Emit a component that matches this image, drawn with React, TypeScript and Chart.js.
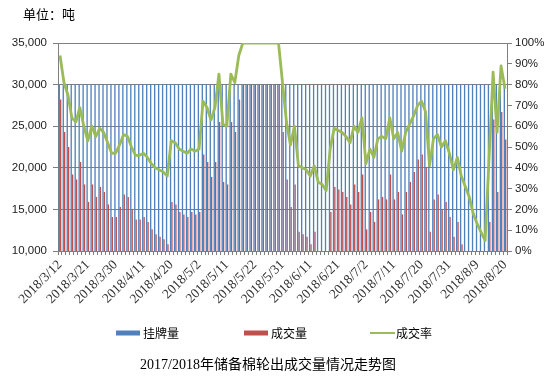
import React, { useEffect, useRef } from 'react';
import { Chart, registerables } from 'chart.js';

Chart.register(...registerables);

const dates = [
  '2018/3/12','2018/3/13','2018/3/14','2018/3/15','2018/3/16','2018/3/19','2018/3/20','2018/3/21','2018/3/22','2018/3/23',
  '2018/3/26','2018/3/27','2018/3/28','2018/3/29','2018/3/30',
  '2018/4/2','2018/4/3','2018/4/4','2018/4/8','2018/4/9','2018/4/10','2018/4/11','2018/4/12','2018/4/13','2018/4/16',
  '2018/4/17','2018/4/18','2018/4/19','2018/4/20','2018/4/23','2018/4/24','2018/4/25','2018/4/26','2018/4/27','2018/4/28',
  '2018/5/2','2018/5/3','2018/5/4','2018/5/7','2018/5/8','2018/5/9','2018/5/10','2018/5/11','2018/5/14','2018/5/15',
  '2018/5/16','2018/5/17','2018/5/18','2018/5/21','2018/5/22','2018/5/23','2018/5/24','2018/5/25','2018/5/28','2018/5/29',
  '2018/5/30','2018/5/31',
  '2018/6/1','2018/6/4','2018/6/5','2018/6/6','2018/6/7','2018/6/8','2018/6/11','2018/6/12','2018/6/13','2018/6/14',
  '2018/6/15','2018/6/19','2018/6/20','2018/6/21','2018/6/22','2018/6/25','2018/6/26','2018/6/27','2018/6/28','2018/6/29',
  '2018/7/2','2018/7/3','2018/7/4','2018/7/5','2018/7/6','2018/7/9','2018/7/10','2018/7/11','2018/7/12','2018/7/13',
  '2018/7/16','2018/7/17','2018/7/18','2018/7/19','2018/7/20','2018/7/23','2018/7/24','2018/7/25','2018/7/26','2018/7/27',
  '2018/7/30','2018/7/31',
  '2018/8/1','2018/8/2','2018/8/3','2018/8/6','2018/8/7','2018/8/8','2018/8/9','2018/8/10','2018/8/13','2018/8/14',
  '2018/8/15','2018/8/16','2018/8/17','2018/8/20',
];

// 挂牌量 (tons)
const listed = [
  30000,30000,30000,30000,30000,30000,30000,30000,30000,30000,
  30000,30000,30000,30000,30000,30000,30000,30000,30000,30000,
  30000,30000,30000,30000,30000,30000,30000,30000,30000,30000,
  30000,30000,30000,30000,30000,30000,30000,30000,30000,30000,
  30000,30000,30000,30000,30000,30000,30000,30000,30000,30000,
  30000,30000,30000,30000,30000,30000,30000,30000,30000,30000,
  30000,30000,30000,30000,30000,30000,30000,30000,30000,30000,
  30000,30000,30000,30000,30000,30000,30000,30000,30000,30000,
  30000,30000,30000,30000,30000,30000,30000,30000,30000,30000,
  30000,30000,30000,30000,30000,30000,30000,30000,30000,30000,
  30000,30000,30000,30000,30000,30000,30000,30000,30000,30000,
  30000,30000,30000,
];

// 成交量 (tons)
const traded = [
  28200,24300,22500,19200,18600,20700,18000,15900,18000,16500,
  17700,17100,15600,14100,14100,15300,16800,16500,15000,13800,
  13800,14100,13500,12600,12000,11700,11400,10800,15900,15600,
  14700,14400,14100,14700,14400,14700,21600,20700,18900,20700,
  25500,18300,18000,25500,24300,28200,30000,30000,30000,30000,
  30000,30000,30000,30000,30000,30000,24300,18600,15300,18000,
  12300,12000,11700,10800,12300,9900,9600,8700,14700,17700,
  17400,17100,16500,15600,18000,17100,19200,12600,14700,13500,
  16200,16500,16200,19200,16200,17100,14400,17100,18300,19500,
  21000,21600,20100,12300,16200,16800,15000,15900,14100,11700,
  13500,10800,9300,7800,5400,3900,2700,1500,13500,25800,
  17100,26700,23400,
];

// 成交率 (%)
const rate = [
  94,81,75,64,62,69,60,53,60,55,
  59,57,52,47,47,51,56,55,50,46,
  46,47,45,42,40,39,38,36,53,52,
  49,48,47,49,48,49,72,69,63,69,
  85,61,60,85,81,94,100,100,100,100,
  100,100,100,100,100,100,81,62,51,60,
  41,40,39,36,41,33,32,29,49,59,
  58,57,55,52,60,57,64,42,49,45,
  54,55,54,64,54,57,48,57,61,65,
  70,72,67,41,54,56,50,53,47,39,
  45,36,31,26,18,13,9,5,45,86,
  57,89,78,
];

const seriesNames = ['挂牌量', '成交量', '成交率'];
const unitText = '单位：吨';
const titleText = '2017/2018年储备棉轮出成交量情况走势图';
const labelEvery = 7;

const BLUE = '#4F81BD';
const RED = '#C0504D';
const GREEN = '#9BBB59';
const GRID = '#7F7F7F';

const textPlugin = {
  id: 'extraTexts',
  afterDraw(chart: any) {
    const ctx = chart.ctx;
    ctx.save();
    ctx.fillStyle = '#000';
    ctx.textBaseline = 'middle';
    ctx.textAlign = 'left';
    ctx.font = '13px "Noto Sans CJK SC"';
    ctx.fillText(unitText, 23, 14);

    // legend
    const ly = 333;
    ctx.font = '12px "Noto Sans CJK SC"';
    ctx.fillStyle = BLUE;
    ctx.fillRect(116, ly - 2.5, 24, 5);
    ctx.fillStyle = '#000';
    ctx.fillText(seriesNames[0], 143, ly);
    ctx.fillStyle = RED;
    ctx.fillRect(244, ly - 2.5, 24, 5);
    ctx.fillStyle = '#000';
    ctx.fillText(seriesNames[1], 271, ly);
    ctx.strokeStyle = GREEN;
    ctx.lineWidth = 2;
    ctx.beginPath();
    ctx.moveTo(370, ly);
    ctx.lineTo(395, ly);
    ctx.stroke();
    ctx.fillStyle = '#000';
    ctx.fillText(seriesNames[2], 396, ly);

    // title
    ctx.textAlign = 'center';
    ctx.font = '14px "Liberation Serif", "Noto Sans CJK SC"';
    ctx.fillText(titleText, 268, 365);
    ctx.restore();
  },
};

export default function App() {
  const ref = useRef<HTMLCanvasElement>(null);

  useEffect(() => {
    if (!ref.current) return;
    const chart = new Chart(ref.current, {
      type: 'bar',
      data: {
        labels: dates,
        datasets: [
          {
            type: 'line',
            label: seriesNames[2],
            data: rate,
            yAxisID: 'y1',
            borderColor: GREEN,
            backgroundColor: GREEN,
            borderWidth: 2.8,
            pointRadius: 0,
            tension: 0,
            borderJoinStyle: 'round',
            order: 0,
          } as any,
          {
            label: seriesNames[0],
            data: listed,
            yAxisID: 'y',
            backgroundColor: BLUE,
            categoryPercentage: 0.7,
            barPercentage: 0.95,
            clip: 0,
            order: 1,
          } as any,
          {
            label: seriesNames[1],
            data: traded,
            yAxisID: 'y',
            backgroundColor: RED,
            categoryPercentage: 0.7,
            barPercentage: 0.95,
            clip: 0,
            order: 1,
          } as any,
        ],
      },
      options: {
        responsive: false,
        animation: false,
        devicePixelRatio: 1,
        layout: { padding: { top: 43, left: 0, right: 0, bottom: 0 } },
        plugins: {
          legend: { display: false },
          tooltip: { enabled: false },
          title: { display: false },
        },
        scales: {
          x: {
            offset: true,
            grid: {
              offset: true,
              drawOnChartArea: false,
              drawTicks: true,
              tickLength: 4,
              color: GRID,
            },
            border: { color: GRID },
            ticks: {
              autoSkip: false,
              minRotation: 45,
              maxRotation: 45,
              padding: 2,
              color: '#333',
              font: { family: '"Liberation Serif"', size: 13.5 },
              callback: (_v: any, i: number) => (i % labelEvery === 0 ? dates[i] : ''),
            },
            afterFit: (s: any) => { s.height = 125; },
          },
          y: {
            position: 'left',
            min: 10000,
            max: 35000,
            ticks: {
              stepSize: 5000,
              padding: 6,
              color: '#222',
              font: { family: '"Liberation Sans"', size: 11.5 },
            },
            grid: { color: GRID, tickLength: 5 },
            border: { color: GRID },
            afterFit: (s: any) => { s.width = 58; },
          },
          y1: {
            position: 'right',
            min: 0,
            max: 100,
            ticks: {
              stepSize: 10,
              padding: 3,
              color: '#222',
              font: { family: '"Liberation Sans"', size: 11.5 },
              callback: (v: any) => v + '%',
            },
            grid: { drawOnChartArea: false, color: GRID, tickLength: 5 },
            border: { color: GRID },
            afterFit: (s: any) => { s.width = 47; },
          },
        },
      },
      plugins: [textPlugin],
    });
    return () => chart.destroy();
  }, []);

  return (
    <div style={{ position: 'fixed', left: 0, top: 0, width: 554, height: 376, background: '#fff' }}>
      <canvas ref={ref} width={554} height={376} />
    </div>
  );
}
